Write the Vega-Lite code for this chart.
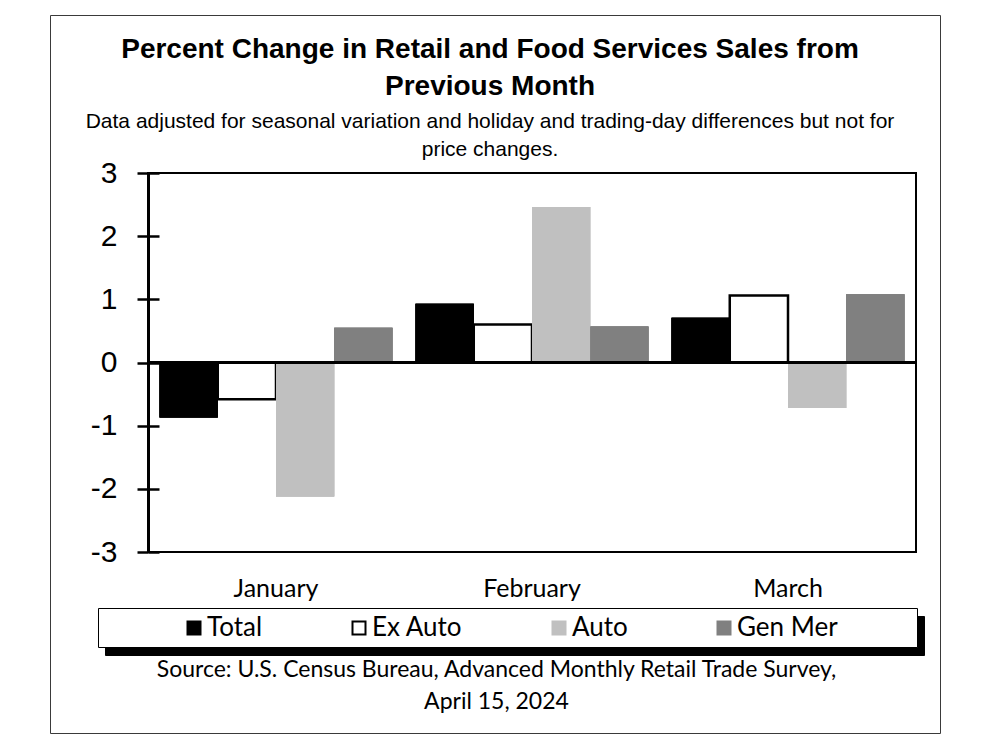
{
  "$schema": "https://vega.github.io/schema/vega-lite/v6.json",
  "width": 768,
  "height": 379,
  "autosize": {"type": "none"},
  "padding": {"left": 148, "top": 173, "right": 84, "bottom": 184},
  "background": "white",
  "title": {
    "text": ["Percent Change in Retail and Food Services Sales from", "Previous Month"],
    "subtitle": ["Data adjusted for seasonal variation and holiday and trading-day differences but not for", "price changes."],
    "anchor": "middle",
    "dx": -42,
    "font": "Liberation Sans",
    "fontSize": 28,
    "fontWeight": "bold",
    "color": "black",
    "lineHeight": 37,
    "subtitleFont": "Liberation Sans",
    "subtitleFontSize": 21,
    "subtitleColor": "black",
    "subtitleLineHeight": 28,
    "subtitlePadding": 10,
    "offset": -145
  },
  "config": {
    "view": {"stroke": "black", "strokeWidth": 2},
    "axis": {"grid": false}
  },
  "data": {
    "values": [
      {"month": "January", "series": "Total", "value": -0.87},
      {"month": "January", "series": "Ex Auto", "value": -0.58},
      {"month": "January", "series": "Auto", "value": -2.12},
      {"month": "January", "series": "Gen Mer", "value": 0.55},
      {"month": "February", "series": "Total", "value": 0.93},
      {"month": "February", "series": "Ex Auto", "value": 0.6},
      {"month": "February", "series": "Auto", "value": 2.46},
      {"month": "February", "series": "Gen Mer", "value": 0.57},
      {"month": "March", "series": "Total", "value": 0.71},
      {"month": "March", "series": "Ex Auto", "value": 1.06},
      {"month": "March", "series": "Auto", "value": -0.72},
      {"month": "March", "series": "Gen Mer", "value": 1.08}
    ]
  },
  "layer": [
    {
      "mark": {"type": "bar"},
      "encoding": {
        "x": {
          "field": "month", "type": "nominal",
          "sort": ["January", "February", "March"],
          "scale": {"paddingInner": 0.09, "paddingOuter": 0.045},
          "axis": {
            "orient": "bottom", "domain": false, "ticks": false,
            "labelAngle": 0, "labelAlign": "center", "labelFont": "Lato", "labelFontSize": 25, "labelColor": "black",
            "labelPadding": 24,
            "title": ["Source: U.S. Census Bureau, Advanced Monthly Retail Trade Survey,", "April 15, 2024"],
            "titleFont": "Lato", "titleFontSize": 23, "titleFontWeight": "normal", "titleColor": "black",
            "titleLineHeight": 32, "titlePadding": 57, "titleX": 348
          }
        },
        "xOffset": {"field": "series", "type": "nominal", "sort": ["Total", "Ex Auto", "Auto", "Gen Mer"]},
        "y": {"field": "value", "type": "quantitative", "axis": null},
        "fill": {
          "field": "series", "type": "nominal",
          "legend": {
            "orient": "none", "legendX": -98, "legendY": -158, "zindex": 0,
            "values": ["Total"],
            "title": " ", "titleOrient": "left", "titleFontSize": 1, "titlePadding": 172,
            "padding": 0, "strokeColor": "#3a3a3a",
            "symbolType": "square", "symbolSize": 515524, "symbolStrokeWidth": 0, "symbolOpacity": 0,
            "labelFontSize": 1, "labelOffset": 0, "labelExpr": "''"
          }
        }
      }
    },
    {
      "mark": {"type": "bar"},
      "encoding": {
        "x": {
          "field": "month", "type": "nominal",
          "sort": ["January", "February", "March"],
          "scale": {"paddingInner": 0.09, "paddingOuter": 0.045},
          "axis": {
            "orient": "bottom", "domain": false, "ticks": false,
            "labelAngle": 0, "labelAlign": "center", "labelFont": "Lato", "labelFontSize": 25, "labelColor": "black",
            "labelPadding": 24,
            "title": ["Source: U.S. Census Bureau, Advanced Monthly Retail Trade Survey,", "April 15, 2024"],
            "titleFont": "Lato", "titleFontSize": 23, "titleFontWeight": "normal", "titleColor": "black",
            "titleLineHeight": 32, "titlePadding": 57, "titleX": 348
          }
        },
        "xOffset": {"field": "series", "type": "nominal", "sort": ["Total", "Ex Auto", "Auto", "Gen Mer"], "scale": {"paddingInner": 0, "paddingOuter": 0}},
        "y": {
          "field": "value", "type": "quantitative",
          "scale": {"domain": [-3, 3], "nice": false},
          "axis": {"orient": "left", "labels": false, "domain": false, "tickSize": -11, "tickWidth": 2.5, "tickColor": "black", "values": [-3, -2, -1, 0, 1, 2, 3], "title": null, "grid": false}
        },
        "fill": {
          "field": "series", "type": "nominal",
          "scale": {"domain": ["Total", "Ex Auto", "Auto", "Gen Mer"], "range": ["#000000", "#ffffff", "#c0c0c0", "#808080"]},
          "legend": {
            "orient": "none", "legendX": -43, "legendY": 443, "zindex": 0,
            "values": ["Total"],
            "title": " ", "titleOrient": "left", "titleFontSize": 1, "titlePadding": 780,
            "padding": 0, "fillColor": "black", "strokeColor": "black",
            "symbolType": "square", "symbolSize": 1521, "symbolStrokeWidth": 0, "symbolOpacity": 0,
            "labelFontSize": 1, "labelOffset": 0, "labelExpr": "''"
          }
        }
      }
    },
    {
      "mark": {"type": "bar"},
      "encoding": {
        "x": {
          "field": "month", "type": "nominal",
          "sort": ["January", "February", "March"],
          "scale": {"paddingInner": 0.09, "paddingOuter": 0.045},
          "axis": {
            "orient": "bottom", "domain": false, "ticks": false,
            "labelAngle": 0, "labelAlign": "center", "labelFont": "Lato", "labelFontSize": 25, "labelColor": "black",
            "labelPadding": 24,
            "title": ["Source: U.S. Census Bureau, Advanced Monthly Retail Trade Survey,", "April 15, 2024"],
            "titleFont": "Lato", "titleFontSize": 23, "titleFontWeight": "normal", "titleColor": "black",
            "titleLineHeight": 32, "titlePadding": 57, "titleX": 348
          }
        },
        "xOffset": {"field": "series", "type": "nominal", "sort": ["Total", "Ex Auto", "Auto", "Gen Mer"]},
        "y": {"field": "value", "type": "quantitative", "axis": null},
        "fill": {
          "field": "series", "type": "nominal",
          "legend": {
            "orient": "none", "legendX": -50, "legendY": 435, "zindex": 1,
            "values": ["Total"],
            "title": " ", "titleOrient": "left", "titleFontSize": 1, "titlePadding": 780,
            "padding": 0, "fillColor": "white", "strokeColor": "black",
            "symbolType": "square", "symbolSize": 1521, "symbolStrokeWidth": 0, "symbolOpacity": 0,
            "labelFontSize": 1, "labelOffset": 0, "labelExpr": "''"
          }
        }
      }
    },
    {
      "mark": {"type": "bar"},
      "encoding": {
        "x": {
          "field": "month", "type": "nominal",
          "sort": ["January", "February", "March"],
          "scale": {"paddingInner": 0.09, "paddingOuter": 0.045},
          "axis": {
            "orient": "bottom", "domain": false, "ticks": false,
            "labelAngle": 0, "labelAlign": "center", "labelFont": "Lato", "labelFontSize": 25, "labelColor": "black",
            "labelPadding": 24,
            "title": ["Source: U.S. Census Bureau, Advanced Monthly Retail Trade Survey,", "April 15, 2024"],
            "titleFont": "Lato", "titleFontSize": 23, "titleFontWeight": "normal", "titleColor": "black",
            "titleLineHeight": 32, "titlePadding": 57, "titleX": 348
          }
        },
        "xOffset": {"field": "series", "type": "nominal", "sort": ["Total", "Ex Auto", "Auto", "Gen Mer"]},
        "y": {
          "field": "value", "type": "quantitative",
          "axis": {"orient": "left", "values": [-3, -2, -1, 0, 1, 2, 3], "title": null, "grid": false,
            "domainColor": "black", "domainWidth": 3, "tickSize": 11, "tickWidth": 2.5, "tickColor": "black",
            "labelFont": "Liberation Sans", "labelFontSize": 30, "labelColor": "black", "labelPadding": 20,
            "labelExpr": "'' + datum.value"}
        },
        "fill": {
          "field": "series", "type": "nominal",
          "legend": {
            "orient": "none", "legendX": -50, "legendY": 436, "zindex": 2,
            "direction": "horizontal", "columns": 4, "columnPadding": 83,
            "title": " ", "titleOrient": "left", "titleFontSize": 1, "titlePadding": 77,
            "padding": 6,
            "symbolType": "square", "symbolSize": 169, "symbolStrokeWidth": 2,
            "labelFont": "Lato", "labelFontSize": 26, "labelColor": "black", "labelOffset": 0, "labelLimit": 400,
            "encode": {"symbols": {"update": {"stroke": {"scale": "stroke", "field": "value"}, "strokeWidth": {"value": 2}}}}
          }
        },
        "stroke": {
          "field": "series", "type": "nominal",
          "scale": {"domain": ["Total", "Ex Auto", "Auto", "Gen Mer"], "range": ["#000000", "#000000", "#c0c0c0", "#808080"]},
          "legend": null
        },
        "strokeWidth": {"condition": {"test": "datum.series === 'Ex Auto'", "value": 2.5}, "value": 0}
      }
    },
    {
      "mark": {"type": "rule", "color": "black", "strokeWidth": 3},
      "encoding": {
        "y": {"datum": 0, "type": "quantitative", "axis": null}
      }
    }
  ],
  "resolve": {"axis": {"y": "independent"}, "legend": {"fill": "independent"}}
}
